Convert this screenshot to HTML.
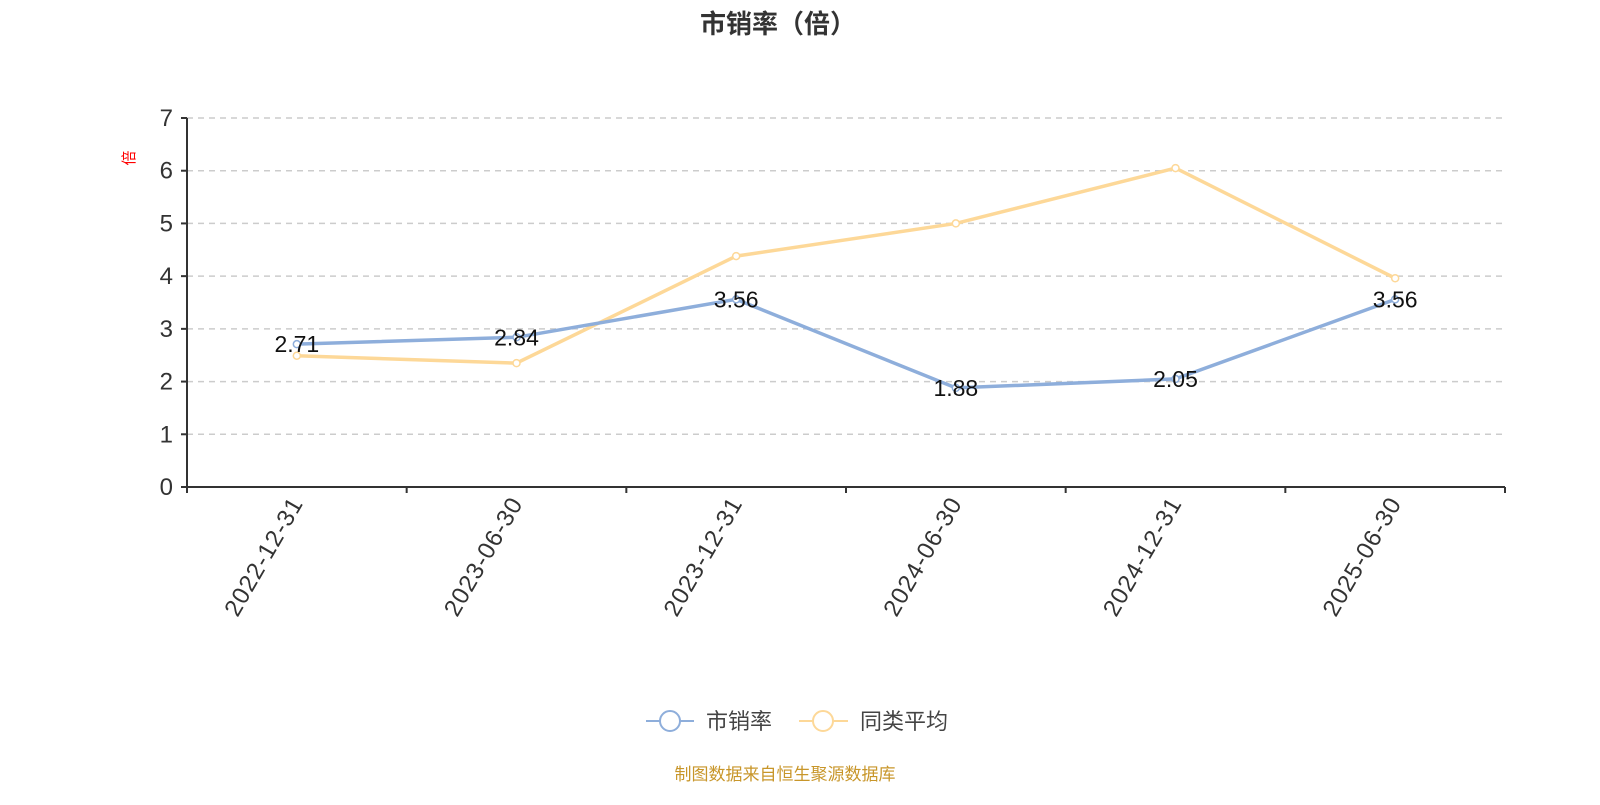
<!DOCTYPE html>
<html><head><meta charset="utf-8"><style>
body{margin:0;background:#fff;}
svg text{font-family:"Liberation Sans","Noto Sans CJK SC",sans-serif;}
</style></head><body>
<svg id="chart" width="1600" height="800" xmlns="http://www.w3.org/2000/svg">
<text x="778" y="33" text-anchor="middle" font-size="26" font-weight="bold" fill="#333">市销率（倍）</text>
<text transform="translate(134,158) rotate(-90)" text-anchor="middle" font-size="15" fill="#f00">倍</text>
<g id="grid"></g><g id="axes"></g><g id="series"></g>
<g>
<g><line x1="646" y1="721" x2="694" y2="721" stroke="#8eaedb" stroke-width="2"/><circle cx="670" cy="721" r="10" fill="#fff" stroke="#8eaedb" stroke-width="2"/><text x="706" y="729" font-size="22" fill="#444">市销率</text></g>
<g><line x1="799" y1="721" x2="848" y2="721" stroke="#fdd898" stroke-width="2"/><circle cx="823" cy="721" r="10" fill="#fff" stroke="#fdd898" stroke-width="2"/><text x="860" y="729" font-size="22" fill="#444">同类平均</text></g>
</g>
<text x="785" y="780" text-anchor="middle" font-size="17" fill="#c8962a">制图数据来自恒生聚源数据库</text>
</svg>
<script>
const categories=["2022-12-31","2023-06-30","2023-12-31","2024-06-30","2024-12-31","2025-06-30"];
const psrValues=[2.71,2.84,3.56,1.88,2.05,3.56];
const avgValues=[2.49,2.35,4.38,5.0,6.05,3.96];
const yTicks=[0,1,2,3,4,5,6,7];
const NS="http://www.w3.org/2000/svg";
const x0=187,x1=1505,y0=487,yTop=118,yMax=7;
const bw=(x1-x0)/categories.length;
const xs=i=>x0+bw*(i+0.5);
const ys=v=>y0-(y0-yTop)*v/yMax;
function mk(tag,attrs,parent){const e=document.createElementNS(NS,tag);for(const k in attrs)e.setAttribute(k,attrs[k]);parent.appendChild(e);return e;}
const grid=document.getElementById('grid'),axes=document.getElementById('axes'),ser=document.getElementById('series');
yTicks.forEach(t=>{
 const y=ys(t);
 if(t>0){const g=mk('line',{x1:x0,x2:x1,y1:y,y2:y,stroke:'#ccc','stroke-dasharray':'6,5','stroke-width':1.5},grid);
 
 }
 const tk=mk('line',{x1:x0-6,x2:x0,y1:y,y2:y,stroke:'#333','stroke-width':2},axes);
 
 
 const l=mk('text',{x:x0-14,y:y+8,'text-anchor':'end','font-size':24,fill:'#333'},axes);
 l.textContent=t;
 
 
});
const ya=mk('line',{x1:x0,x2:x0,y1:yTop,y2:y0,stroke:'#333','stroke-width':2},axes);


const xa=mk('line',{x1:x0,x2:x1,y1:y0,y2:y0,stroke:'#333','stroke-width':2},axes);


for(let i=0;i<=categories.length;i++){const t=mk('line',{x1:x0+bw*i,x2:x0+bw*i,y1:y0,y2:y0+6,stroke:'#333','stroke-width':2},axes);
 
 }
categories.forEach((c,i)=>{
 const l=mk('text',{transform:`translate(${xs(i)+7},${y0+16}) rotate(-60)`,'text-anchor':'end','font-size':24,'letter-spacing':1,fill:'#333'},axes);
 l.textContent=c;
 
 
});
function series(vals,color,name,labels){
 const p=mk('polyline',{points:vals.map((v,i)=>xs(i)+','+ys(v)).join(' '),fill:'none',stroke:color,'stroke-width':3.5},ser);
 
 
 vals.forEach((v,i)=>{
  const c=mk('circle',{cx:xs(i),cy:ys(v),r:3.5,fill:'#fff',stroke:color,'stroke-width':1.5},ser);
  
  
  if(labels){const t=mk('text',{x:xs(i),y:ys(v)+8,'text-anchor':'middle','font-size':23,fill:'#111'},ser);
   t.textContent=v.toFixed(2);
   
   }
 });
}
series(avgValues,'#fdd898','peer-avg',false);
series(psrValues,'#8eaedb','psr',true);
</script>
</body></html>
